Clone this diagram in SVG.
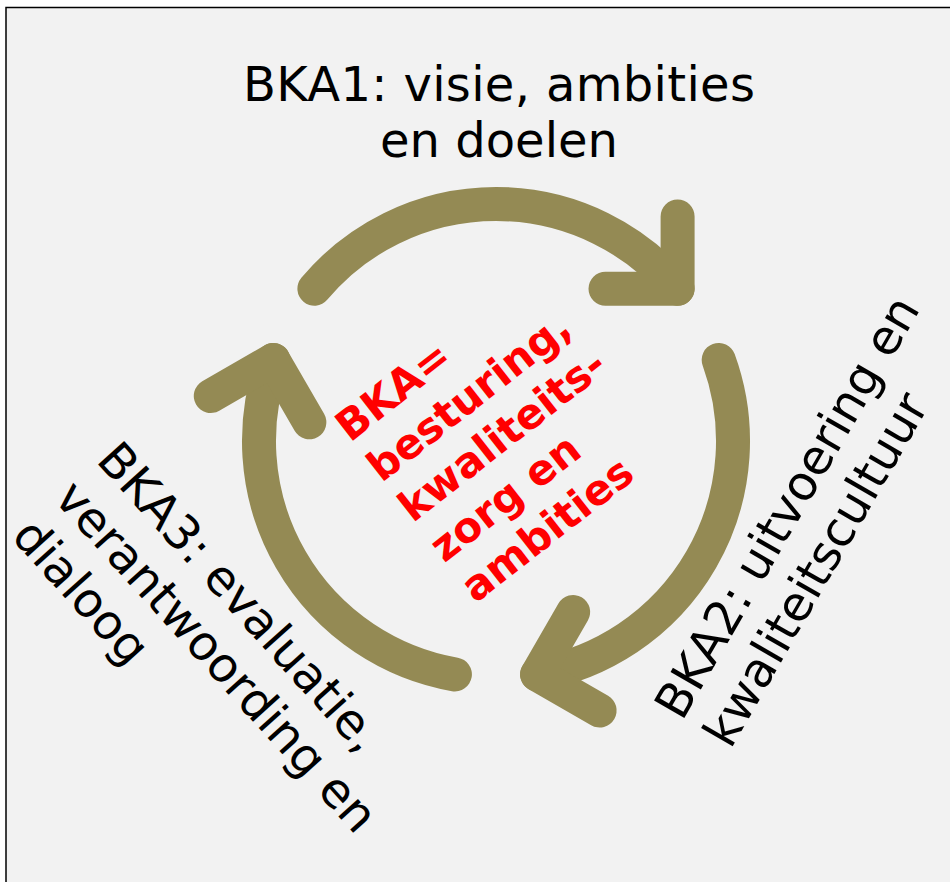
<svg xmlns="http://www.w3.org/2000/svg" xmlns:xlink="http://www.w3.org/1999/xlink" width="950" height="882" viewBox="0 0 950 882">
<style>
.lbl{font-family:"DejaVu Sans",Verdana,sans-serif;font-size:48px;fill:#000}
.ctr{font-family:"DejaVu Sans",Verdana,sans-serif;font-size:42px;font-weight:bold;fill:#ff0000}
.arr{fill:none;stroke:#948a54;stroke-width:34;stroke-linecap:round;stroke-linejoin:round}
</style>
<defs>
<g id="arrow">
<path class="arr" d="M314.4,288.7 A237,237 0 0 1 677.6,288.7"/>
<path class="arr" d="M677.6,216.5 L677.6,288.7 L605.5,288.7"/>
</g>
</defs>
<rect x="0" y="0" width="950" height="882" fill="#ffffff"/>
<rect x="6" y="7.5" width="1000" height="1000" fill="#f2f2f2" stroke="#000" stroke-width="1.5"/>
<g id="connectors">
<use xlink:href="#arrow" href="#arrow"/>
<use xlink:href="#arrow" href="#arrow" transform="rotate(120 496 441)"/>
<use xlink:href="#arrow" href="#arrow" transform="rotate(240 496 441)"/>
</g>
<g id="bka1">
<text class="lbl" text-anchor="middle" x="499" y="101" textLength="512">BKA1: visie, ambities</text>
<text class="lbl" text-anchor="middle" x="499" y="157">en doelen</text>
</g>
<g id="bka2" transform="translate(682,722) rotate(-60)">
<text class="lbl" x="0" y="0">BKA2: uitvoering en</text>
<text class="lbl" x="0" y="56">kwaliteitscultuur</text>
</g>
<g id="bka3" transform="translate(95,461) rotate(48)">
<text class="lbl" x="0" y="0">BKA3: evaluatie,</text>
<text class="lbl" x="0" y="57">verantwoording en</text>
<text class="lbl" x="0" y="114">dialoog</text>
</g>
<g id="center" transform="translate(350,443) rotate(-38)">
<text class="ctr" x="0" y="0">BKA=</text>
<text class="ctr" x="0" y="51">besturing,</text>
<text class="ctr" x="0" y="102">kwaliteits-</text>
<text class="ctr" x="0" y="153">zorg en</text>
<text class="ctr" x="0" y="204">ambities</text>
</g>
</svg>
